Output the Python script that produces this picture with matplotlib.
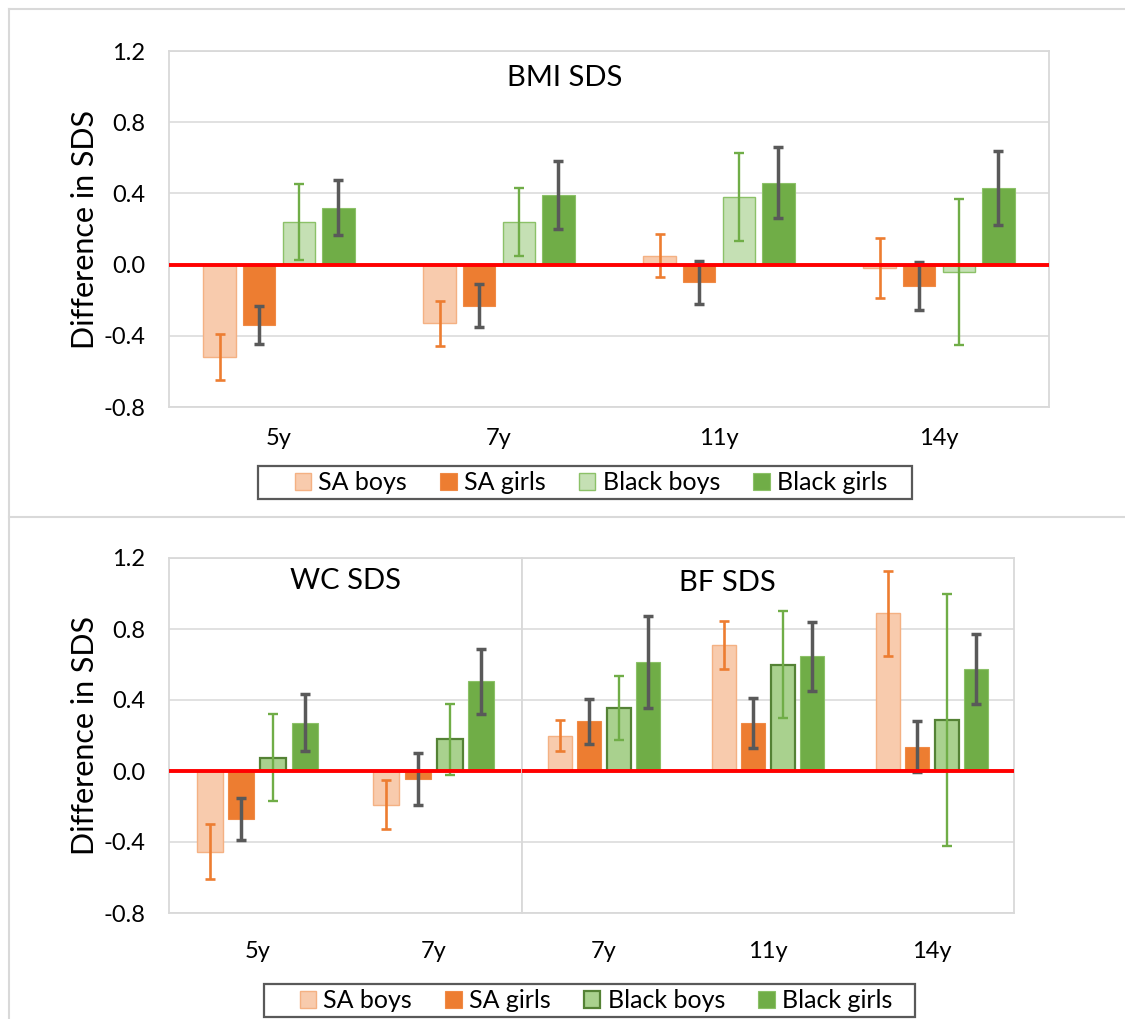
import matplotlib
matplotlib.use("Agg")
import matplotlib.pyplot as plt
from matplotlib.patches import Patch, Rectangle
from matplotlib.lines import Line2D
import numpy as np

plt.rcParams['font.family'] = ['Lato', 'DejaVu Sans']

# ---- data -------------------------------------------------------------
series = ['SA boys', 'SA girls', 'Black boys', 'Black girls']
ticks = [-0.8, -0.4, 0.0, 0.4, 0.8, 1.2]
tick_labels = ['-0.8', '-0.4', '0.0', '0.4', '0.8', '1.2']

bmi_groups = ['5y', '7y', '11y', '14y']
bmi_sa_boys = [-0.52, -0.33, 0.05, -0.02]
bmi_sa_boys_err = [0.13, 0.125, 0.12, 0.17]
bmi_sa_girls = [-0.34, -0.23, -0.10, -0.12]
bmi_sa_girls_err = [0.105, 0.123, 0.12, 0.135]
bmi_black_boys = [0.24, 0.24, 0.38, -0.04]
bmi_black_boys_err = [0.215, 0.19, 0.245, 0.41]
bmi_black_girls = [0.32, 0.39, 0.46, 0.43]
bmi_black_girls_err = [0.155, 0.19, 0.20, 0.21]

wc_groups = ['5y', '7y']
wc_sa_boys = [-0.455, -0.19]
wc_sa_boys_err = [0.155, 0.137]
wc_sa_girls = [-0.27, -0.045]
wc_sa_girls_err = [0.118, 0.148]
wc_black_boys = [0.075, 0.178]
wc_black_boys_err = [0.245, 0.20]
wc_black_girls = [0.273, 0.505]
wc_black_girls_err = [0.163, 0.184]

bf_groups = ['7y', '11y', '14y']
bf_sa_boys = [0.20, 0.712, 0.888]
bf_sa_boys_err = [0.09, 0.135, 0.24]
bf_sa_girls = [0.28, 0.27, 0.138]
bf_sa_girls_err = [0.127, 0.143, 0.146]
bf_black_boys = [0.355, 0.60, 0.288]
bf_black_boys_err = [0.18, 0.30, 0.712]
bf_black_girls = [0.613, 0.646, 0.575]
bf_black_girls_err = [0.259, 0.196, 0.195]

# ---- styles -----------------------------------------------------------
GRID = '#D9D9D9'
ERR_GRAY = '#595959'
ORANGE = '#ED7D31'
GREEN = '#70AD47'
TICK_FS = 17
LABEL_FS = 22
TITLE_FS = 21
LEGEND_FS = 18

def styles(dark_green_edge):
    bb_face = '#A9D18E' if dark_green_edge else '#C5E0B4'
    bb_edge = '#548235' if dark_green_edge else '#8CC168'
    bb_lw = 1.6 if dark_green_edge else 1.0
    return [
        dict(face='#F8CBAD', edge='#F4B183', lw=1.0, ecol=ORANGE, elw=1.9),
        dict(face=ORANGE, edge='#F08A45', lw=0.8, ecol=ERR_GRAY, elw=2.5),
        dict(face=bb_face, edge=bb_edge, lw=bb_lw, ecol=GREEN, elw=1.7),
        dict(face=GREEN, edge='#8CC168', lw=0.8, ecol=ERR_GRAY, elw=2.5),
    ]

OFFSETS = [-0.27, -0.09, 0.09, 0.27]
WIDTH = 0.148


def draw_panel(ax, groups, vals, errs, st, show_y, xpad):
    x = np.arange(len(groups))
    for k in range(4):
        s = st[k]
        ax.bar(x + OFFSETS[k], vals[k], WIDTH, color=s['face'],
               edgecolor=s['edge'], linewidth=s['lw'], zorder=3)
        ax.errorbar(x + OFFSETS[k], vals[k], yerr=errs[k], fmt='none',
                    ecolor=s['ecol'], elinewidth=s['elw'], capsize=3.6,
                    capthick=s['elw'], zorder=4)
    ax.axhline(0, color='#FF0000', lw=2.8, zorder=5)
    ax.set_xlim(-0.5, len(groups) - 0.5)
    ax.set_ylim(-0.8, 1.2)
    ax.set_yticks(ticks)
    ax.set_xticks(x)
    ax.set_xticklabels(groups, fontsize=TICK_FS)
    ax.tick_params(axis='x', length=0, pad=xpad)
    ax.tick_params(axis='y', length=0, pad=17)
    if show_y:
        ax.set_yticklabels(tick_labels, fontsize=TICK_FS)
    else:
        ax.set_yticklabels([])
    ax.grid(axis='y', color=GRID, lw=1.1, zorder=0)
    for sp in ax.spines.values():
        sp.set_color(GRID)
        sp.set_linewidth(1.3)
    ax.set_axisbelow(True)


W, H = 1125, 1019
fig = plt.figure(figsize=(W / 100, H / 100), dpi=100)

def rect(x0, y0, x1, y1):
    return [x0 / W, 1 - y1 / H, (x1 - x0) / W, (y1 - y0) / H]

# outer frames
fig.add_artist(Line2D([9 / W, 9 / W], [0, 1 - 9 / H], color=GRID, lw=1.5))
fig.add_artist(Line2D([9 / W, 1], [1 - 9 / H, 1 - 9 / H], color=GRID, lw=1.5))
fig.add_artist(Line2D([9 / W, 1], [1 - 517 / H, 1 - 517 / H], color=GRID, lw=1.5))

# BMI panel
ax1 = fig.add_axes(rect(169, 51, 1049, 407))
draw_panel(ax1, bmi_groups,
           [bmi_sa_boys, bmi_sa_girls, bmi_black_boys, bmi_black_girls],
           [bmi_sa_boys_err, bmi_sa_girls_err, bmi_black_boys_err, bmi_black_girls_err],
           styles(False), True, 15)
ax1.set_ylabel('Difference in SDS', fontsize=LABEL_FS, labelpad=3)
ax1.text(0.45, 0.925, 'BMI SDS', transform=ax1.transAxes, ha='center',
         va='center', fontsize=TITLE_FS)

# WC panel
ax2 = fig.add_axes(rect(169, 558, 522, 913))
draw_panel(ax2, wc_groups,
           [wc_sa_boys, wc_sa_girls, wc_black_boys, wc_black_girls],
           [wc_sa_boys_err, wc_sa_girls_err, wc_black_boys_err, wc_black_girls_err],
           styles(True), True, 20)
ax2.set_ylabel('Difference in SDS', fontsize=LABEL_FS, labelpad=3)
ax2.text(0.5, 0.935, 'WC SDS', transform=ax2.transAxes, ha='center',
         va='center', fontsize=TITLE_FS)

# BF panel
ax3 = fig.add_axes(rect(522, 558, 1014, 913))
draw_panel(ax3, bf_groups,
           [bf_sa_boys, bf_sa_girls, bf_black_boys, bf_black_girls],
           [bf_sa_boys_err, bf_sa_girls_err, bf_black_boys_err, bf_black_girls_err],
           styles(True), False, 20)
ax3.text(0.417, 0.93, 'BF SDS', transform=ax3.transAxes, ha='center',
         va='center', fontsize=TITLE_FS)


def legend(st, box, cx):
    x0, y0, x1, y1 = box
    fig.add_artist(Rectangle((x0 / W, 1 - y1 / H), (x1 - x0) / W, (y1 - y0) / H,
                             transform=fig.transFigure, facecolor='white',
                             edgecolor=ERR_GRAY, linewidth=1.6, zorder=1))
    handles = [Patch(facecolor=s['face'], edgecolor=s['edge'], linewidth=s['lw'])
               for s in st]
    lg = fig.legend(handles, series, loc='center',
                    bbox_to_anchor=(cx / W, 1 - (y0 + y1) / 2 / H),
                    ncol=4, fontsize=LEGEND_FS, frameon=False,
                    handlelength=0.65, handleheight=0.65, handletextpad=0.3,
                    columnspacing=1.33, borderpad=0.0, borderaxespad=0)
    lg.set_zorder(2)
    return lg

legend(styles(False), (258, 466, 912, 499), 591)
legend(styles(True), (264, 984, 915, 1017), 596)

fig.savefig('out.png', dpi=100)
